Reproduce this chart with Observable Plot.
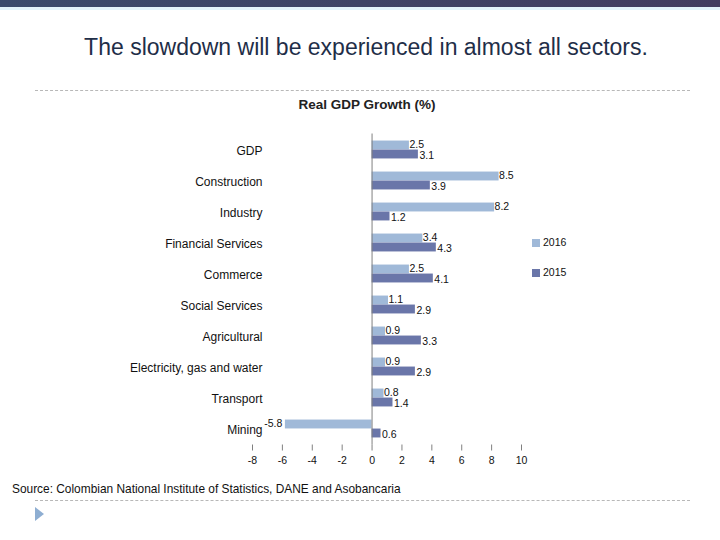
<!DOCTYPE html>
<html>
<head>
<meta charset="utf-8">
<script src="https://cdn.jsdelivr.net/npm/d3@7"></script>
<script src="https://cdn.jsdelivr.net/npm/@observablehq/plot@0.6"></script>
<style>
  html, body { margin: 0; padding: 0; background: #fff; }
  #page { position: relative; width: 720px; height: 540px; overflow: hidden; font-family: "Liberation Sans", Arial, sans-serif; }
  #topbar { position: absolute; left: 0; top: 0; width: 720px; height: 7px; background: linear-gradient(90deg, #3b4b6c, #433d60); }
  #topline { position: absolute; left: 0; top: 7px; width: 720px; height: 3px; background: #e3f4fb; }
  #title { position: absolute; left: 0; top: 34px; width: 732px; text-align: center; font-size: 23px; color: #1f2e48; white-space: nowrap; }
  .dash { position: absolute; left: 35px; width: 655px; height: 0; border-top: 1px dashed #b8b8b8; }
  #subtitle { position: absolute; left: 0; top: 97px; width: 734px; text-align: center; font-size: 13.5px; font-weight: bold; color: #222; }
  #chart { position: absolute; left: 0; top: 110px; }
  #source { position: absolute; left: 12px; top: 482px; font-size: 11.9px; color: #111; white-space: nowrap; }
  #tri { position: absolute; left: 35px; top: 507px; width: 0; height: 0; border-top: 7px solid transparent; border-bottom: 7px solid transparent; border-left: 9px solid #8eaed2; }
  .leg { position: absolute; left: 532px; font-size: 10.5px; color: #111; }
  .leg span { display: inline-block; width: 8px; height: 8px; margin-right: 3px; vertical-align: -0.5px; }
</style>
</head>
<body>
<div id="page">
  <div id="topbar"></div>
  <div id="topline"></div>
  <div id="title">The slowdown will be experienced in almost all sectors.</div>
  <div class="dash" style="top:90px"></div>
  <div id="subtitle">Real GDP Growth (%)</div>
  <div id="chart"></div>
  <div class="leg" style="top:236px"><span style="background:#a0b9d8"></span>2016</div>
  <div class="leg" style="top:266px"><span style="background:#6a76a9"></span>2015</div>
  <div id="source">Source: Colombian National Institute of Statistics, DANE and Asobancaria</div>
  <div class="dash" style="top:500px"></div>
  <div id="tri"></div>
</div>
<script>
const categories = ["GDP", "Construction", "Industry", "Financial Services", "Commerce", "Social Services", "Agricultural", "Electricity, gas and water", "Transport", "Mining"];
const values2016 = [2.5, 8.5, 8.2, 3.4, 2.5, 1.1, 0.9, 0.9, 0.8, -5.8];
const values2015 = [3.1, 3.9, 1.2, 4.3, 4.1, 2.9, 3.3, 2.9, 1.4, 0.6];
const xTicks = [-8, -6, -4, -2, 0, 2, 4, 6, 8, 10];

const c2016 = "#a0b9d8";
const c2015 = "#6a76a9";

const rows = categories.map((c, i) => ({cat: c, v16: values2016[i], v15: values2015[i]}));
const pos16 = rows.filter(d => d.v16 >= 0);
const neg16 = rows.filter(d => d.v16 < 0);

const H = 370, mTop = 23.5, mBottom = 35.5;
const step = (H - mTop - mBottom) / categories.length;
const barH = 9;
const half = step / 2;

const plot = Plot.plot({
  width: 720,
  height: H,
  marginLeft: 252,
  marginRight: 199,
  marginTop: mTop,
  marginBottom: mBottom,
  style: {fontFamily: "'Liberation Sans', Arial, sans-serif", color: "#111", background: "transparent"},
  x: {domain: [-8, 10], ticks: xTicks, label: null},
  y: {domain: categories, padding: 0, label: null},
  marks: [
    Plot.barX(rows, {y: "cat", x: "v16", fill: c2016, insetTop: half - barH, insetBottom: half}),
    Plot.barX(rows, {y: "cat", x: "v15", fill: c2015, insetTop: half, insetBottom: half - barH}),
    Plot.ruleX([0], {stroke: "#808080", strokeWidth: 1}),
    Plot.text(pos16, {y: "cat", x: "v16", text: d => String(d.v16), dy: -5, dx: 0, textAnchor: "start", fontSize: 10.5, fill: "#111"}),
    Plot.text(neg16, {y: "cat", x: "v16", text: d => String(d.v16), dy: -5, dx: -3, textAnchor: "end", fontSize: 10.5, fill: "#111"}),
    Plot.text(rows, {y: "cat", x: "v15", text: d => String(d.v15), dy: 6, dx: 1, textAnchor: "start", fontSize: 10.5, fill: "#111"}),
    Plot.axisY({tickSize: 0, tickPadding: 0, dx: 10, dy: 1, fontSize: 12, label: null}),
    Plot.axisX({ticks: xTicks, tickSize: 6, tickPadding: 6, fontSize: 10.5, label: null, stroke: "#808080", tickFormat: d => String(d)}),
    Plot.ruleY([0], {frameAnchor: "bottom", stroke: "#808080"})
  ]
});
document.getElementById("chart").appendChild(plot);
</script>
</body>
</html>
